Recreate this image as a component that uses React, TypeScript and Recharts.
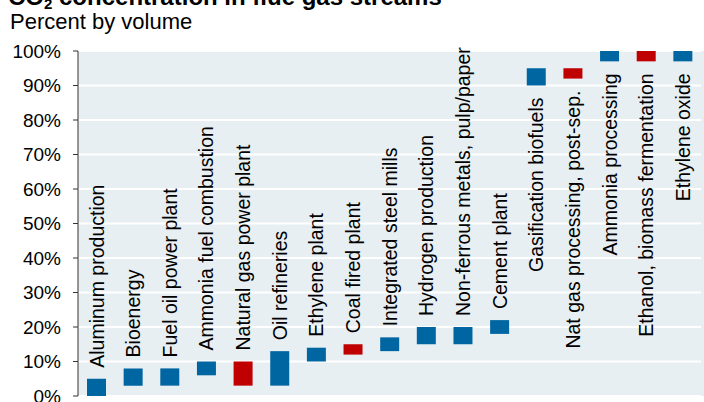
import { BarChart, Bar, XAxis, YAxis, CartesianGrid, Cell, LabelList } from 'recharts';

const categories = [
  'Aluminum production',
  'Bioenergy',
  'Fuel oil power plant',
  'Ammonia fuel combustion',
  'Natural gas power plant',
  'Oil refineries',
  'Ethylene plant',
  'Coal fired plant',
  'Integrated steel mills',
  'Hydrogen production',
  'Non-ferrous metals, pulp/paper',
  'Cement plant',
  'Gasification biofuels',
  'Nat gas processing, post-sep.',
  'Ammonia processing',
  'Ethanol, biomass fermentation',
  'Ethylene oxide'
];

// CO2 percent by volume, low and high end of each range
const lows = [0, 3, 3, 6, 3, 3, 10, 12, 13, 15, 15, 18, 90, 92, 97, 97, 97];
const highs = [5, 8, 8, 10, 10, 13, 14, 15, 17, 20, 20, 22, 95, 95, 100, 100, 100];
const fills = [
  '#0066a1', '#0066a1', '#0066a1', '#0066a1', '#c00000', '#0066a1', '#0066a1', '#c00000',
  '#0066a1', '#0066a1', '#0066a1', '#0066a1', '#0066a1', '#c00000', '#0066a1', '#c00000', '#0066a1'
];
const yTicks = [0, 10, 20, 30, 40, 50, 60, 70, 80, 90, 100];

const data = categories.map((name, i) => ({ name, range: [lows[i], highs[i]] }));

const FONT = 'Arial, "Liberation Sans", sans-serif';

function CategoryLabel(props: any) {
  const { x, y, width, height, index } = props;
  const top = Math.min(y, y + height);
  const bottom = Math.max(y, y + height);
  const cx = x + width / 2;
  const below = highs[index] > 50;
  const ty = below ? bottom + 12 : top - 11;
  return (
    <text
      x={cx}
      y={ty}
      transform={`rotate(-90, ${cx}, ${ty})`}
      textAnchor={below ? 'end' : 'start'}
      dominantBaseline="central"
      fontSize={19.5}
      fontFamily={FONT}
      fill="#000"
    >
      {categories[index]}
    </text>
  );
}

export default function App() {
  return (
    <div style={{ position: 'absolute', left: 0, top: 0, width: 704, height: 402, background: '#fff', overflow: 'hidden' }}>
      <div style={{ position: 'absolute', left: 78, top: 51, width: 626, height: 345, background: '#e7eff3' }} />
      <svg width={704} height={40} style={{ position: 'absolute', left: 0, top: 0 }}>
        <text x={8} y={5} fontSize={24} fontWeight="bold" fontFamily={FONT} fill="#000">
          CO<tspan fontSize={15} dy={4}>2</tspan>
          <tspan dy={-4}> concentration in flue gas streams</tspan>
        </text>
        <text x={10} y={29} fontSize={22} fontFamily={FONT} fill="#000">
          Percent by volume
        </text>
      </svg>
      <div style={{ position: 'absolute', left: 0, top: 0 }}>
        <BarChart
          width={704}
          height={402}
          data={data}
          margin={{ top: 51, right: 3, bottom: 6, left: 0 }}
          barCategoryGap={0}
        >
          <CartesianGrid vertical={false} stroke="#ffffff" strokeWidth={2} />
          <XAxis dataKey="name" hide />
          <YAxis
            width={78}
            domain={[0, 100]}
            ticks={yTicks}
            interval={0}
            tickFormatter={(v) => `${v}%`}
            tickSize={5}
            tickMargin={12}
            axisLine={{ stroke: '#333333' }}
            tickLine={{ stroke: '#333333' }}
            tick={{ fill: '#000', fontSize: 19, fontFamily: FONT }}
          />
          <Bar dataKey="range" barSize={19} isAnimationActive={false}>
            {data.map((d, i) => (
              <Cell key={d.name} fill={fills[i]} />
            ))}
            <LabelList dataKey="name" content={CategoryLabel} />
          </Bar>
        </BarChart>
      </div>
    </div>
  );
}
